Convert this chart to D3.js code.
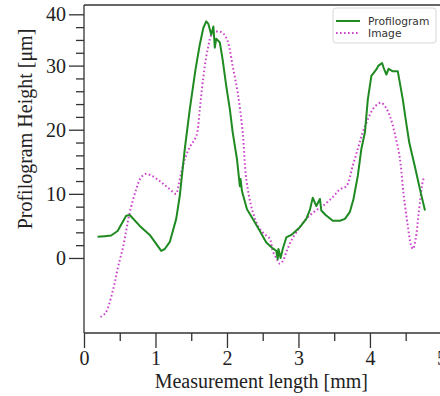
<!DOCTYPE html>
<meta charset="utf-8">
<style>
body { margin: 0; background: #fff; }
svg { display: block; }
.axis text { font-family: "Liberation Serif", "Times New Roman", serif; font-size: 20px; fill: #222; }
.axis path, .axis line { stroke: #333; stroke-width: 1.3; }
</style>
<script src="https://d3js.org/d3.v7.min.js"></script>
<div id="my_dataviz"></div>
<script>

// Profilogram (measured) trace: x in mm, height in um
var profX = [0.19,0.29,0.38,0.47,0.59,0.64,0.78,0.92,1.08,1.13,1.20,1.29,1.34,1.41,1.48,1.56,1.62,1.67,1.71,1.74,1.78,1.81,1.83,1.85,1.90,1.94,1.99,2.04,2.08,2.14,2.18,2.19,2.21,2.28,2.36,2.46,2.55,2.63,2.69,2.71,2.72,2.75,2.78,2.83,2.90,3.02,3.11,3.16,3.20,3.25,3.30,3.32,3.38,3.48,3.58,3.65,3.72,3.77,3.83,3.88,3.93,3.97,4.02,4.09,4.12,4.17,4.19,4.23,4.26,4.32,4.39,4.46,4.50,4.55,4.63,4.70,4.77];
var profY = [3.3,3.4,3.5,4.2,6.6,6.7,5.0,3.6,1.1,1.4,2.5,6.1,9.7,17.0,23.2,29.4,33.3,35.9,36.9,36.5,34.8,36.1,32.8,34.2,33.6,30.9,26.8,23.2,19.6,15.4,11.2,12.3,10.4,7.6,6.1,4.2,2.4,1.6,1.1,-0.2,1.4,0.0,1.4,3.2,3.6,4.8,6.1,7.5,9.4,8.1,9.2,7.4,6.7,5.8,5.8,6.1,7.2,9.2,12.8,17.0,19.6,24.7,28.4,29.4,30.0,30.4,29.7,28.6,29.5,29.1,29.1,24.7,21.6,18.0,14.2,10.7,7.4];

// Image-derived trace
var imgX = [0.23,0.30,0.41,0.47,0.55,0.64,0.73,0.79,0.86,0.95,1.06,1.17,1.29,1.31,1.34,1.41,1.48,1.57,1.62,1.66,1.73,1.80,1.90,1.95,2.01,2.08,2.15,2.22,2.27,2.36,2.46,2.55,2.60,2.64,2.70,2.74,2.78,2.83,2.89,2.97,3.11,3.23,3.34,3.48,3.58,3.67,3.76,3.83,3.90,3.97,4.04,4.11,4.16,4.22,4.28,4.35,4.42,4.47,4.53,4.57,4.60,4.64,4.68,4.74,4.76];
var imgY = [-9.2,-8.6,-4.8,-1.7,1.9,7.1,10.7,12.4,13.1,12.8,12.0,11.0,10.0,10.7,12.3,15.4,17.3,19.0,23.2,27.4,32.5,35.1,35.3,35.0,33.8,29.9,25.8,19.6,12.3,7.2,4.5,3.5,3.0,1.1,-0.2,-0.9,-0.5,0.9,2.5,4.0,6.1,7.3,8.1,9.5,10.7,11.2,14.4,17.0,19.6,21.6,23.2,24.0,24.2,23.5,22.1,19.3,15.4,10.0,5.0,2.2,1.4,3.0,6.8,12.0,12.6];

// ticks (top label sits on the 38 position in the original figure)
var xTicks = [0, 1, 2, 3, 4, 5];
var xMinor = [0.5, 1.5, 2.5, 3.5, 4.5];
var yTicks = [0, 10, 20, 30, 38];
var yTickLabels = ["0", "10", "20", "30", "40"];
var yMinor = [2,4,6,8,12,14,16,18,22,24,26,28,32,34,36];

var seriesNames = ["Profilogram", "Image"];
var seriesColors = ["#1f8a22", "#cc44cc"];

var W = 440, H = 396;
var margin = {top: 5, right: 0, bottom: 63, left: 84};
var width = W - margin.left - margin.right,
    height = H - margin.top - margin.bottom;

var svg = d3.select("#my_dataviz")
  .append("svg")
    .attr("width", W)
    .attr("height", H)
  .append("g")
    .attr("transform", "translate(" + margin.left + "," + margin.top + ")");

var x = d3.scaleLinear().domain([0, 4.98]).range([0, width]);
var y = d3.scaleLinear().domain([-11.7, 39.45]).range([height, 0]);

// frame: top line
svg.append("line").attr("x1", 0).attr("x2", width).attr("y1", 0).attr("y2", 0)
  .attr("stroke", "#333").attr("stroke-width", 1.3);

// X axis
var xAxis = svg.append("g")
  .attr("class", "axis")
  .attr("transform", "translate(0," + height + ")")
  .call(d3.axisBottom(x).tickValues(xTicks).tickFormat(d3.format("d")).tickSize(15).tickPadding(3));
xAxis.select(".domain").attr("d", "M0,0H" + width);
svg.append("g")
  .attr("class", "axis")
  .attr("transform", "translate(0," + height + ")")
  .call(d3.axisBottom(x).tickValues(xMinor).tickFormat("").tickSize(8))
  .select(".domain").remove();

// Y axis
var yAxis = svg.append("g")
  .attr("class", "axis")
  .call(d3.axisLeft(y).tickValues(yTicks)
    .tickFormat(function(d, i) { return yTickLabels[i]; })
    .tickSize(15).tickPadding(3));
yAxis.select(".domain").attr("d", "M0,0V" + height);
svg.append("g")
  .attr("class", "axis")
  .call(d3.axisLeft(y).tickValues(yMinor).tickFormat("").tickSize(8))
  .select(".domain").remove();

// axis titles
svg.append("text")
  .attr("x", x(2.48))
  .attr("y", height + 55)
  .attr("text-anchor", "middle")
  .style("font-family", "'Liberation Serif', 'Times New Roman', serif")
  .style("font-size", "20px")
  .style("fill", "#222")
  .text("Measurement length [mm]");

svg.append("text")
  .attr("transform", "rotate(-90)")
  .attr("x", -(129 - margin.top))
  .attr("y", -margin.left + 32)
  .attr("text-anchor", "middle")
  .style("font-family", "'Liberation Serif', 'Times New Roman', serif")
  .style("font-size", "20px")
  .style("fill", "#222")
  .text("Profilogram Height [\u03bcm]");

// lines
var line = d3.line()
  .x(function(d) { return x(d[0]); })
  .y(function(d) { return y(d[1]); });

svg.append("path")
  .datum(d3.zip(imgX, imgY))
  .attr("fill", "none")
  .attr("stroke", seriesColors[1])
  .attr("stroke-width", 2)
  .attr("stroke-dasharray", "1.6,2.4")
  .attr("d", line.curve(d3.curveCatmullRom)(d3.zip(imgX, imgY)));

svg.append("path")
  .datum(d3.zip(profX, profY))
  .attr("fill", "none")
  .attr("stroke", seriesColors[0])
  .attr("stroke-width", 2)
  .attr("stroke-linejoin", "round")
  .attr("d", line.curve(d3.curveLinear));

// legend
var lg = svg.append("g").attr("transform", "translate(" + (333 - margin.left) + "," + (8 - margin.top) + ")");
lg.append("rect")
  .attr("width", 103).attr("height", 35).attr("rx", 3)
  .attr("fill", "#fff").attr("stroke", "#d8d8d8");
lg.selectAll("legline")
  .data(seriesNames)
  .enter()
  .append("line")
    .attr("x1", 3).attr("x2", 27)
    .attr("y1", function(d, i) { return 13 + i * 12; })
    .attr("y2", function(d, i) { return 13 + i * 12; })
    .attr("stroke", function(d, i) { return seriesColors[i]; })
    .attr("stroke-width", 2)
    .attr("stroke-dasharray", function(d, i) { return i === 1 ? "1.6,2.4" : null; });
lg.selectAll("leglabel")
  .data(seriesNames)
  .enter()
  .append("text")
    .attr("x", 35)
    .attr("y", function(d, i) { return 13 + i * 12; })
    .attr("dy", "0.35em")
    .style("font-family", "'DejaVu Sans', sans-serif")
    .style("font-size", "10.7px")
    .style("fill", "#333")
    .text(function(d) { return d; });

</script>
